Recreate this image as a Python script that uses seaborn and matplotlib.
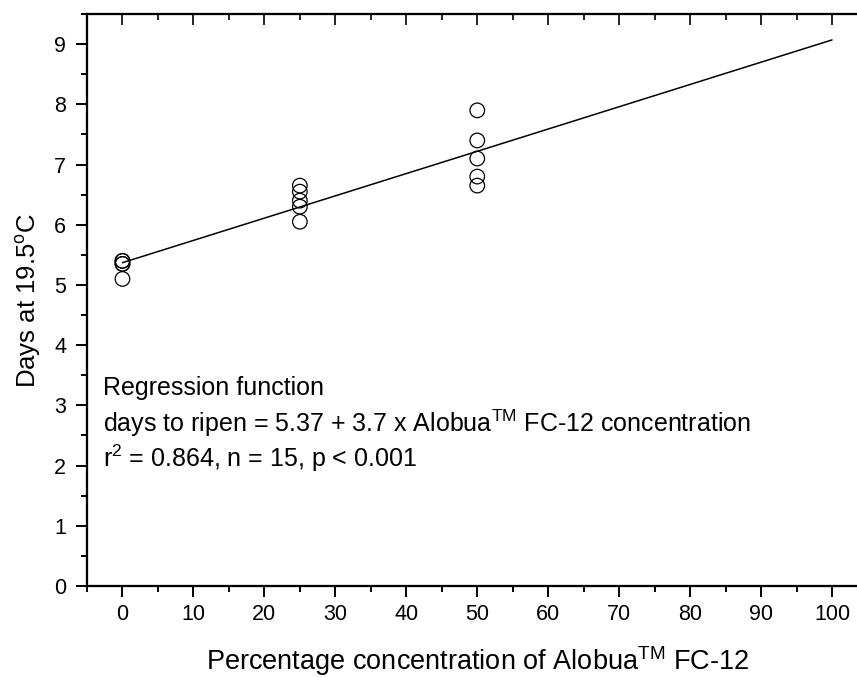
import numpy as np
import pandas as pd
import matplotlib
matplotlib.use('Agg')
import matplotlib.pyplot as plt
import seaborn as sns

# Data
conc = [0, 0, 0, 0, 0, 25, 25, 25, 25, 25, 50, 50, 50, 50, 50]
days = [5.4, 5.4, 5.35, 5.35, 5.1,
        6.65, 6.55, 6.4, 6.3, 6.05,
        7.9, 7.4, 7.1, 6.8, 6.65]

# regression: days = 5.37 + 3.7 x fraction (x in percent)
intercept = 5.37
slope = 3.7
line_x = [0, 100]

xticks = [0, 10, 20, 30, 40, 50, 60, 70, 80, 90, 100]
yticks = [0, 1, 2, 3, 4, 5, 6, 7, 8, 9]

df = pd.DataFrame({'conc': conc, 'days': days})
fit = pd.DataFrame({'conc': line_x,
                    'days': [intercept + slope * v / 100 for v in line_x]})

sns.set_style('ticks')
plt.rcParams['font.family'] = ['Liberation Sans', 'DejaVu Sans']
plt.rcParams['mathtext.fontset'] = 'custom'
plt.rcParams['mathtext.rm'] = 'Liberation Sans'
plt.rcParams['mathtext.it'] = 'Liberation Sans:italic'
plt.rcParams['text.color'] = 'black'
plt.rcParams['axes.labelcolor'] = 'black'

fig = plt.figure(figsize=(8.57, 6.77), dpi=100)
ax = fig.add_axes([0.1015, 0.1344, 0.9108, 0.8449])

sns.lineplot(data=fit, x='conc', y='days', color='black', lw=1.1, ax=ax)
sns.scatterplot(data=df, x='conc', y='days', s=110, facecolor='none',
                edgecolor='black', linewidth=0.9, ax=ax, zorder=3)

ax.set_xlim(-5, 105)
ax.set_ylim(0, 9.5)
ax.set_xticks(xticks)
ax.set_yticks(yticks)
ax.set_xticks(np.arange(-5, 106, 5), minor=True)
ax.set_yticks(np.arange(0, 9.6, 0.5), minor=True)

for s in ax.spines.values():
    s.set_linewidth(1.5)
    s.set_color('black')

ax.tick_params(which='both', width=1.4, colors='black', labelsize=15.5,
               direction='out')
ax.tick_params(axis='x', pad=5)
ax.tick_params(axis='y', pad=7)
ax.tick_params(which='major', length=8)
ax.tick_params(which='minor', length=4)

# inward ticks on top and right
axt = ax.twiny()
axt.set_xlim(ax.get_xlim())
axt.set_xticks(xticks)
axt.set_xticks(np.arange(-5, 106, 5), minor=True)
axt.tick_params(which='both', direction='in', width=1.4, labeltop=False)
axt.tick_params(which='major', length=8)
axt.tick_params(which='minor', length=4)
axr = ax.twinx()
axr.set_ylim(ax.get_ylim())
axr.set_yticks(yticks)
axr.set_yticks(np.arange(0, 9.6, 0.5), minor=True)
axr.tick_params(which='both', direction='in', width=1.4, labelright=False)
axr.tick_params(which='major', length=8)
axr.tick_params(which='minor', length=4)
for a in (axt, axr):
    for s in a.spines.values():
        s.set_linewidth(1.5)
        s.set_color('black')

ax.set_xlabel('Percentage concentration of Alobua$^{\\mathrm{TM}}$ FC-12',
              fontsize=19.5, labelpad=14)
ax.set_ylabel('Days at 19.5$^{\\mathrm{o}}$C', fontsize=18.5, labelpad=8)

txt = 18
ax.text(-2.8, 3.17, 'Regression function', fontsize=txt, va='baseline')
ax.text(-2.8, 2.55, 'days to ripen = 5.37 + 3.7 x Alobua$^{\\mathrm{TM}}$ FC-12 concentration',
        fontsize=txt, va='baseline')
ax.text(-2.8, 1.97, 'r$^{\\mathrm{2}}$ = 0.864, n = 15, p < 0.001',
        fontsize=txt, va='baseline')

fig.savefig('out.png', dpi=100)
